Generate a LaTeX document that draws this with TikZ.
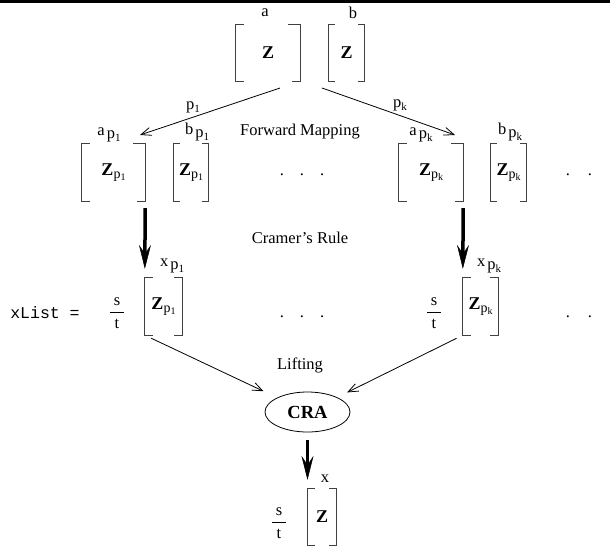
\documentclass[tikz,border=0pt]{standalone}
\usepackage{fontspec}
\setmainfont{Liberation Serif}
\setmonofont{Liberation Mono}
\usetikzlibrary{arrows.meta,shapes.geometric}

\newcommand{\lblsub}[3]{#1\hspace{2pt}\raisebox{-3.5pt}{#2\raisebox{-3pt}{\fontsize{11}{12}\selectfont #3}}}
\newcommand{\Zsub}[2]{{\fontsize{18}{20}\selectfont\textbf{Z}}\raisebox{-3pt}{\fontsize{14}{15}\selectfont #1\raisebox{-2.5pt}{\fontsize{10}{11}\selectfont #2}}}
\newcommand{\Zb}{{\fontsize{18}{20}\selectfont\textbf{Z}}}
\newcommand{\sovert}{$\displaystyle\frac{\makebox[14pt]{s}}{\mbox{t}}$}
\newcommand{\mbrk}[3]{%
  \draw[brk] ([xshift=#2]#1.north west) -- (#1.north west) -- (#1.south west) -- ([xshift=#2]#1.south west);
  \draw[brk] ([xshift=-#3]#1.north east) -- (#1.north east) -- (#1.south east) -- ([xshift=-#2]#1.south east);}

\tikzset{
  txt/.style={inner sep=0, font=\fontsize{16.5}{19}\selectfont},
  mat/.style={inner sep=0, font=\fontsize{16.5}{19}\selectfont},
  brk/.style={line width=1, black!75},
  thinarrow/.style={line width=0.8, -{Straight Barb[length=10pt,width=8pt]}},
  bigarrow/.style={line width=3.5, -{Stealth[length=24pt,width=12pt,inset=9pt,line width=0.5pt]}},
}

\begin{document}
\begin{tikzpicture}[x=1pt,y=-1pt]
\useasboundingbox (0,0) rectangle (610,546);
\fill[black] (0,0) rectangle (610,2.5);

% top row
\node[mat, minimum width=64, minimum height=56] (A) at (268,53) {\Zb};
\node[mat, minimum width=35, minimum height=56] (B) at (346.5,53) {\Zb};
\mbrk{A}{8}{12}
\mbrk{B}{6}{6}
\node[txt] (la) at (265,13) {a};
\node[txt] (lb) at (353,13) {b};

% forward mapping arrows
\coordinate (f1s) at (280,88);
\coordinate (f1e) at (140,135);
\coordinate (fks) at (322,88);
\coordinate (fke) at (455,135);
\draw[thinarrow] (f1s) -- (f1e);
\draw[thinarrow] (fks) -- (fke);
\node[txt] (p1) at (193,107) {p\raisebox{-3pt}{\fontsize{11}{12}\selectfont 1}};
\node[txt] (pk) at (400,105) {p\raisebox{-3pt}{\fontsize{11}{12}\selectfont k}};
\node[txt] (fm) at (300,132) {Forward Mapping};

% second row
\node[mat, minimum width=63, minimum height=57] (AP1) at (113.5,172.5) {\Zsub{p}{1}};
\node[mat, minimum width=34, minimum height=57] (BP1) at (191,172.5) {\Zsub{p}{1}};
\node[mat, minimum width=64, minimum height=57] (APk) at (431,172.5) {\Zsub{p}{k}};
\node[mat, minimum width=35, minimum height=57] (BPk) at (508.5,172.5) {\Zsub{p}{k}};
\mbrk{AP1}{8}{12}
\mbrk{BP1}{6}{6}
\mbrk{APk}{8}{12}
\mbrk{BPk}{6}{6}
\node[txt] (lap1) at (109,135) {\lblsub{a}{p}{1}};
\node[txt] (lbp1) at (197,132) {\lblsub{b}{p}{1}};
\node[txt] (lapk) at (421,135) {\lblsub{a}{p}{k}};
\node[txt] (lbpk) at (510,132) {\lblsub{b}{p}{k}};
\node[txt] (d2m) at (302,175) {.\hspace{16pt}.\hspace{16pt}.};
\node[txt] (d2r) at (579,175) {.\hspace{18pt}.};

% Cramer
\node[txt] (cr) at (300,238) {Cramer's Rule};

% third row
\node[mat, minimum width=37, minimum height=57] (XP1) at (163.5,306.5) {\Zsub{p}{1}};
\node[mat, minimum width=35, minimum height=57] (XPk) at (480.5,306.5) {\Zsub{p}{k}};
\mbrk{XP1}{8}{8}
\mbrk{XPk}{8}{8}
\node[txt] (lxp1) at (172,266) {\lblsub{x}{p}{1}};
\node[txt] (lxpk) at (489,266) {\lblsub{x}{p}{k}};
\node[txt] (st1) at (117,313) {\sovert};
\node[txt] (stk) at (434,313) {\sovert};
\node[inner sep=0, font=\fontsize{16.5}{19}\ttfamily] (xl) at (45,313) {xList =};
\node[txt] (d3m) at (302,317) {.\hspace{16pt}.\hspace{16pt}.};
\node[txt] (d3r) at (579,317) {.\hspace{18pt}.};

\draw[bigarrow, shorten <=7, shorten >=9] (AP1.south east) -- (XP1.north west);
\draw[bigarrow, shorten <=7, shorten >=9] (APk.south east) -- (XPk.north west);

% lifting
\node[txt] (lift) at (300,365) {Lifting};
\node[ellipse, draw, line width=0.8, minimum width=85, minimum height=40, inner sep=0,
      font=\fontsize{18.5}{20}\selectfont\bfseries] (CRA) at (307.5,412) {CRA};
\draw[thinarrow, shorten <=7, shorten >=15] (XP1.south west) -- (CRA);
\draw[thinarrow, shorten <=7, shorten >=11] (XPk.south west) -- (CRA);

% result
\node[mat, minimum width=28, minimum height=56] (X) at (322,517) {\Zb};
\mbrk{X}{7}{7}
\node[txt] (lx) at (325,479) {x};
\node[txt] (st) at (279,523) {\sovert};
\draw[bigarrow, shorten <=8, shorten >=9] (CRA.south) -- (CRA.south |- X.north);
\end{tikzpicture}
\end{document}
